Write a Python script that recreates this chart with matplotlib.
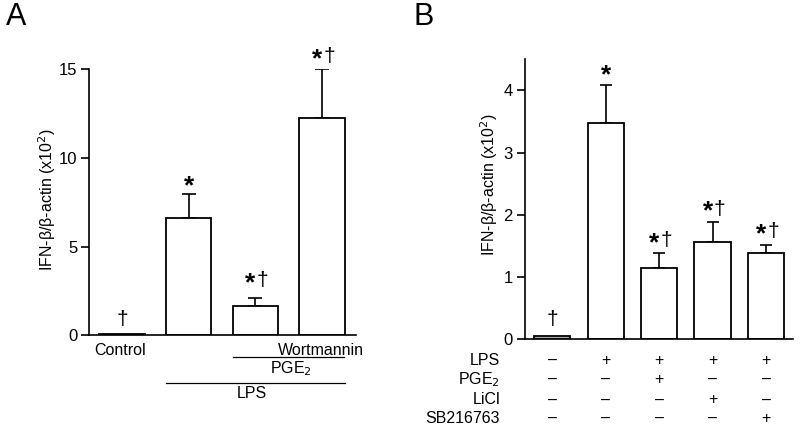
import matplotlib
matplotlib.use("Agg")
import matplotlib.pyplot as plt
from matplotlib.transforms import offset_copy

plt.rcParams['font.family'] = ['Liberation Sans', 'DejaVu Sans']

# Panel A data
a_labels = ["Control", "LPS", "LPS+PGE2", "LPS+PGE2+Wortmannin"]
a_values = [0.05, 6.6, 1.65, 12.24]
a_errors = [0.0, 1.35, 0.44, 2.76]
a_marks = ["†", "*", "*†", "*†"]
a_mark_y = [0.98, 8.6, 3.12, 15.76]

# Panel B data
b_values = [0.05, 3.48, 1.15, 1.56, 1.38]
b_errors = [0.0, 0.61, 0.24, 0.32, 0.13]
b_marks = ["†", "*", "*†", "*†", "*†"]
b_mark_y = [0.34, 4.29, 1.6, 2.1, 1.74]
b_rows = ["LPS", "PGE$_2$", "LiCl", "SB216763"]
b_signs = [["–", "+", "+", "+", "+"],
           ["–", "–", "+", "–", "–"],
           ["–", "–", "–", "+", "–"],
           ["–", "–", "–", "–", "+"]]

fig = plt.figure(figsize=(8, 4.36), dpi=100)
FS = 11.5
TFS = 12

def style(ax):
    for s in ["top", "right"]:
        ax.spines[s].set_visible(False)
    ax.spines["left"].set_linewidth(1.2)
    ax.spines["bottom"].set_linewidth(1.2)
    ax.tick_params(axis="x", length=0, labelbottom=False)
    ax.tick_params(axis="y", length=5.5, width=1.2, labelsize=TFS, pad=3)

STAR_FS = 19
DAG_FS = 15
STAR_OFF = -10.3
DAG_OFF = -6.5

def mark_text(ax, x, yc, m):
    # yc: data y of the visual centre of the mark
    if m == "*":
        tr = offset_copy(ax.transData, fig=fig, x=0, y=STAR_OFF, units="dots")
        ax.text(x, yc, "*", ha="center", va="baseline", fontsize=STAR_FS,
                fontweight="bold", transform=tr, clip_on=False)
    elif m == "†":
        tr = offset_copy(ax.transData, fig=fig, x=0, y=DAG_OFF - 0.5, units="dots")
        ax.text(x, yc, "†", ha="center", va="baseline", fontsize=DAG_FS,
                transform=tr, clip_on=False)
    else:
        tr1 = offset_copy(ax.transData, fig=fig, x=-5, y=STAR_OFF, units="dots")
        ax.text(x, yc, "*", ha="center", va="baseline", fontsize=STAR_FS,
                fontweight="bold", transform=tr1, clip_on=False)
        tr2 = offset_copy(ax.transData, fig=fig, x=7, y=DAG_OFF, units="dots")
        ax.text(x, yc, "†", ha="center", va="baseline", fontsize=DAG_FS,
                transform=tr2, clip_on=False)

# ---------- Panel A ----------
axA = fig.add_axes([0.1113, 0.231, 0.3337, 0.610])
xa = list(range(len(a_values)))
axA.bar(xa, a_values, width=0.68, color="white", edgecolor="black", linewidth=1.3, zorder=2)
for i, (v, e) in enumerate(zip(a_values, a_errors)):
    if e > 0:
        axA.errorbar(i, v, yerr=[[0], [e]], fmt="none", ecolor="black", elinewidth=1.2,
                     capsize=4.8, capthick=1.2, zorder=1)
axA.set_xlim(-0.495, 3.51)
axA.set_ylim(0, 15)
axA.set_yticks([0, 5, 10, 15])
style(axA)
for i, m in enumerate(a_marks):
    mark_text(axA, i, a_mark_y[i], m)

# labels below panel A
tA = axA.get_xaxis_transform()
axA.text(-0.03, -0.03, "Control", transform=tA, ha="center", va="top", fontsize=FS)
axA.text(2.98, -0.03, "Wortmannin", transform=tA, ha="center", va="top", fontsize=FS)
axA.plot([1.67, 3.33], [-0.082, -0.082], transform=tA, color="black", lw=0.9, clip_on=False)
axA.text(2.53, -0.09, "PGE$_2$", transform=tA, ha="center", va="top", fontsize=FS)
axA.plot([0.66, 3.35], [-0.178, -0.178], transform=tA, color="black", lw=0.9, clip_on=False)
axA.text(1.95, -0.19, "LPS", transform=tA, ha="center", va="top", fontsize=FS)

fig.text(47 / 800, 1 - 200 / 436, "IFN-β/β-actin (x10$^2$)", rotation=90,
         ha="center", va="center", fontsize=FS)
fig.text(6 / 800, 1 - 17 / 436, "A", fontsize=22, ha="left", va="center")

# ---------- Panel B ----------
axB = fig.add_axes([0.656, 0.2225, 0.335, 0.6415])
xb = list(range(len(b_values)))
colors = ["#b0b0b0"] + ["white"] * (len(b_values) - 1)
axB.bar(xb, b_values, width=0.68, color=colors, edgecolor="black", linewidth=1.3, zorder=2)
for i, (v, e) in enumerate(zip(b_values, b_errors)):
    if e > 0:
        axB.errorbar(i, v, yerr=[[0], [e]], fmt="none", ecolor="black", elinewidth=1.2,
                     capsize=4.2, capthick=1.2, zorder=1)
axB.set_xlim(-0.515, 4.5)
axB.set_ylim(0, 4.5)
axB.set_yticks([0, 1, 2, 3, 4])
style(axB)
for i, m in enumerate(b_marks):
    mark_text(axB, i, b_mark_y[i], m)

tB = axB.get_xaxis_transform()
row_y = [360.7, 379.5, 400, 418.3]
ax_bottom_px = 339.0
ax_h_px = 0.6415 * 436
for r, (lab, signs) in enumerate(zip(b_rows, b_signs)):
    yy = (ax_bottom_px - row_y[r]) / ax_h_px
    axB.text(-0.98, yy, lab, transform=tB, ha="right", va="center", fontsize=FS)
    for i, s in enumerate(signs):
        axB.text(i, yy, s, transform=tB, ha="center", va="center", fontsize=FS)

fig.text(489 / 800, 1 - 185 / 436, "IFN-β/β-actin (x10$^2$)", rotation=90,
         ha="center", va="center", fontsize=FS)
fig.text(414 / 800, 1 - 17 / 436, "B", fontsize=22, ha="left", va="center")

fig.savefig("out.png", dpi=100)
